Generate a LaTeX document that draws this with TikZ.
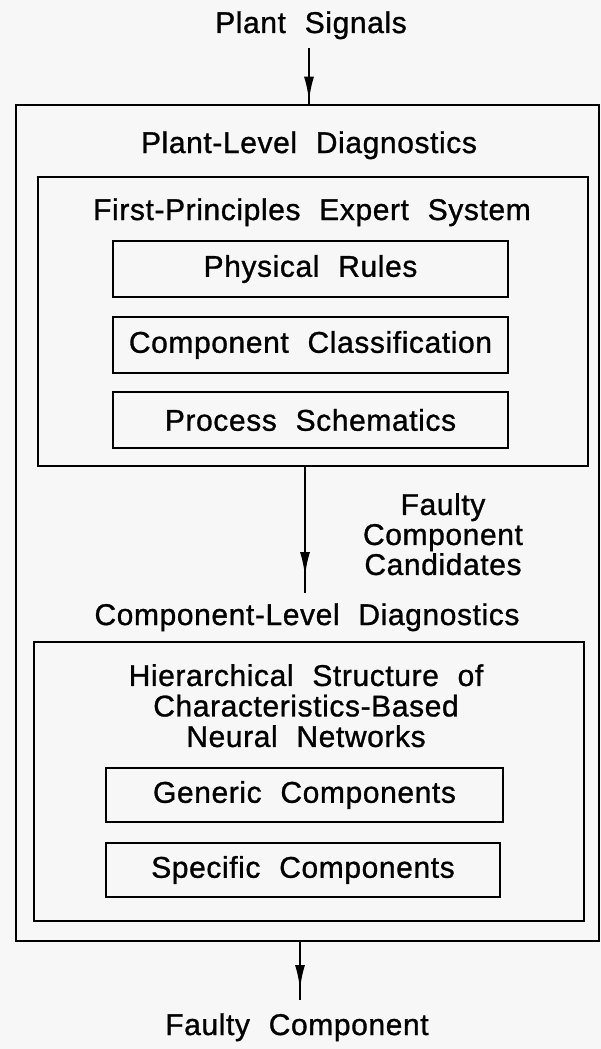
\documentclass[tikz,border=0pt]{standalone}
\usepackage{fontspec}
\setmainfont{Liberation Sans}[LetterSpace=2,WordSpace=2.1,FakeBold=1]
\usetikzlibrary{arrows.meta,decorations.markings}
\definecolor{paper}{RGB}{247,247,247}
\begin{document}
\begin{tikzpicture}[x=1pt,y=-1pt,
  lbl/.style={font=\fontsize{30}{30}\selectfont, inner sep=0pt},
  frame/.style={draw, line width=2.8pt, inner sep=0pt},
  itembox/.style={frame, minimum height=56pt},
  flow/.style={line width=2.8pt, postaction={decorate},
    decoration={markings, mark=at position #1 with {\arrow{Latex[length=25pt,width=10pt]}}}},
]
\fill[paper] (0,0) rectangle (601,1049);
\useasboundingbox (0,0) rectangle (601,1049);

% outer frame: plant-level diagnostics
\node[frame, minimum width=583pt, minimum height=836pt] (plant) at (307.5,523) {};
\node[lbl, anchor=base] (sig) at (311,33) {Plant Signals};
\node[lbl, anchor=base] (pld) at (309,153) {Plant-Level Diagnostics};

% first-principles expert system
\node[frame, minimum width=550pt, minimum height=289pt] (fp) at (313,321.5) {};
\node[lbl, anchor=base] (fpt) at (312,220) {First-Principles Expert System};
\node[itembox, minimum width=395pt] (phys) at (310.5,269) {};
\node[lbl] at (phys) {Physical Rules};
\node[itembox, minimum width=395pt] (ccls) at (310.5,345) {};
\node[lbl] at (ccls) {Component Classification};
\node[itembox, minimum width=395pt] (psch) at (310.5,420) {};
\node[lbl] at (psch) {Process Schematics};

% hand-over between the two levels
\node[lbl, anchor=north, align=center] (cand) at (443,493) {Faulty\\Component\\Candidates};
\node[lbl, anchor=base] (cld) at (307,625) {Component-Level Diagnostics};

% characteristics-based neural networks
\node[frame, minimum width=550pt, minimum height=279pt] (nn) at (309,781.5) {};
\node[lbl, anchor=north, align=center, font=\fontsize{30}{30.5}\selectfont] (nnt) at (306,664)
  {Hierarchical Structure of\\Characteristics-Based\\Neural Networks};
\node[itembox, minimum width=397pt, minimum height=54pt] (gen) at (304.5,795) {};
\node[lbl] at (gen) {Generic Components};
\node[itembox, minimum width=394pt, minimum height=54pt] (spec) at (303,870) {};
\node[lbl] at (spec) {Specific Components};

\node[lbl, anchor=base] (fc) at (297,1035) {Faulty Component};

% connectors
\coordinate (in) at (309,48);
\coordinate (mid) at (305,593);
\coordinate (out) at (300,1000);
\draw[flow=-2pt] (in) -- (in |- plant.north);
\draw[flow=-16pt] (mid |- fp.south) -- (mid);
\draw[flow=-10pt] (out |- plant.south) -- (out);
\end{tikzpicture}
\end{document}
